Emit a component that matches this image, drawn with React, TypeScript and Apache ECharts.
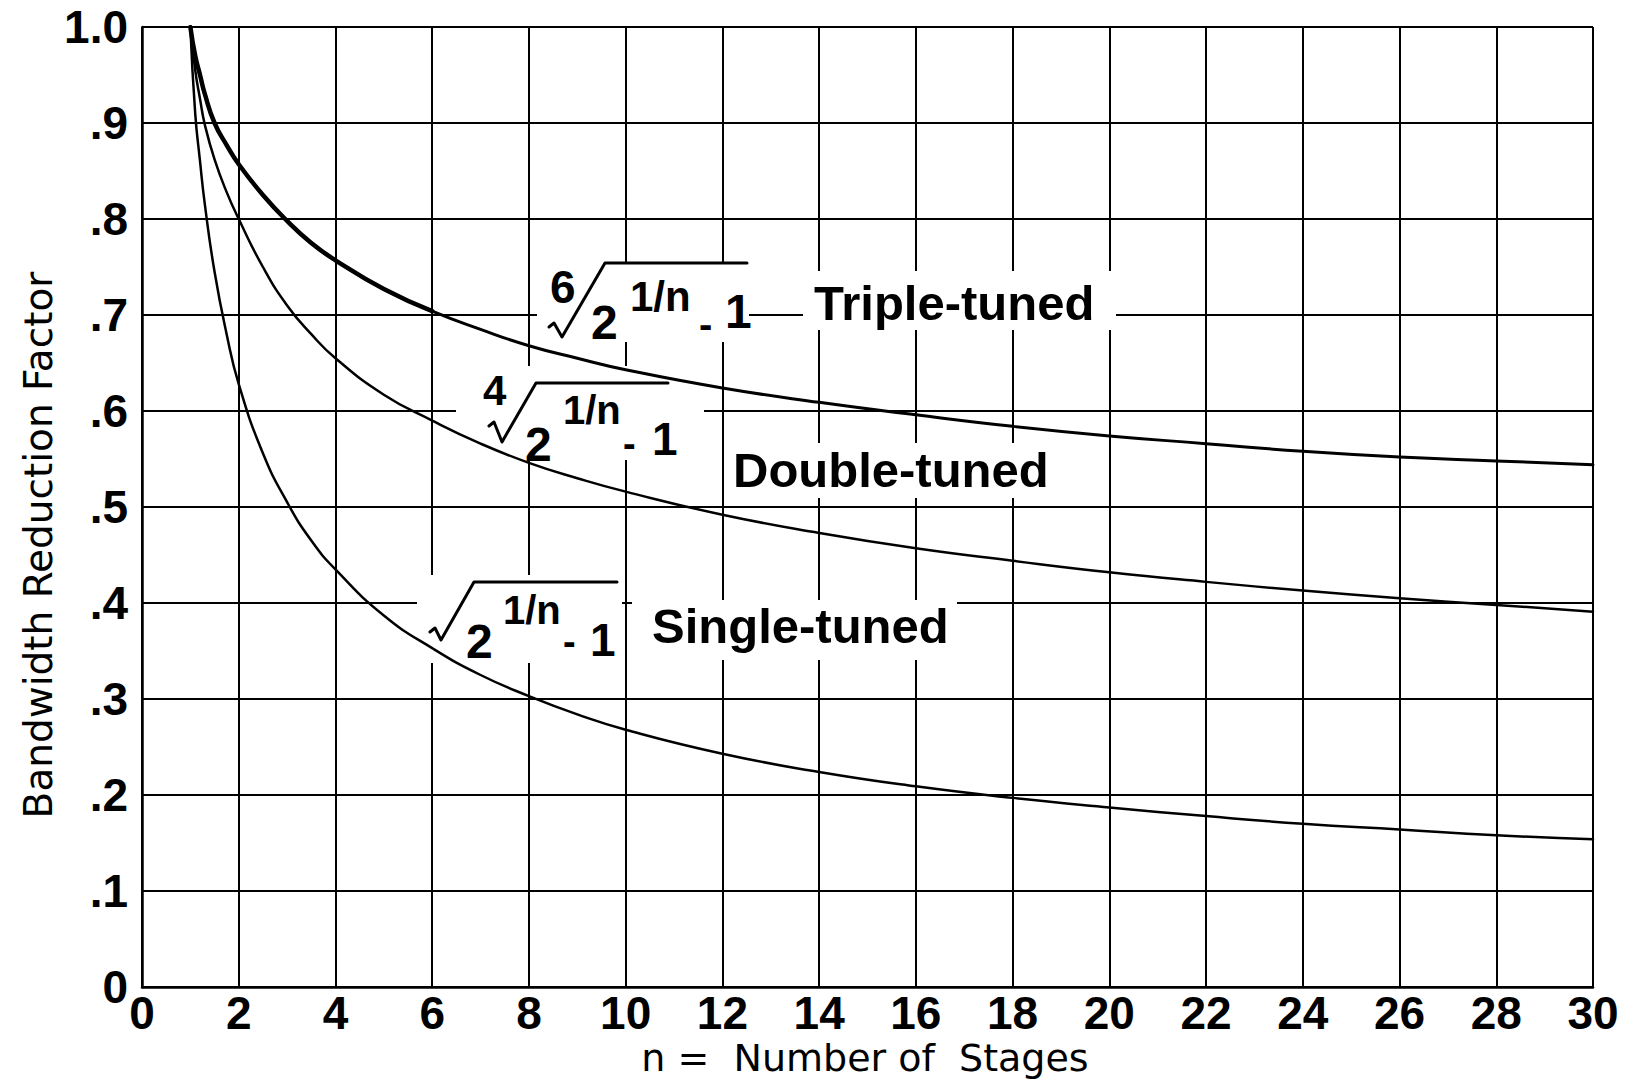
import React, { useEffect, useRef } from "react";
import * as echarts from "echarts";

const stages = [1, 1.1, 1.2, 1.3, 1.5, 1.75, 2, 2.5, 3, 3.5, 4, 5, 6, 7, 8, 9, 10, 12, 14, 16, 18, 20, 22, 24, 26, 28, 30];
const singleTuned = [1, 0.91, 0.86, 0.815, 0.745, 0.68, 0.628, 0.556, 0.505, 0.465, 0.435, 0.387, 0.353, 0.325, 0.303, 0.284, 0.268, 0.243, 0.224, 0.209, 0.197, 0.187, 0.178, 0.17, 0.164, 0.158, 0.154];
const doubleTuned = [1, 0.955, 0.925, 0.898, 0.862, 0.828, 0.8, 0.75, 0.71, 0.68, 0.655, 0.617, 0.59, 0.566, 0.546, 0.53, 0.516, 0.492, 0.473, 0.457, 0.444, 0.432, 0.422, 0.413, 0.405, 0.398, 0.391];
const tripleTuned = [1, 0.97, 0.95, 0.93, 0.9, 0.877, 0.857, 0.825, 0.798, 0.775, 0.757, 0.727, 0.704, 0.685, 0.668, 0.655, 0.643, 0.624, 0.609, 0.596, 0.584, 0.574, 0.566, 0.558, 0.552, 0.548, 0.544];
const heavyUntil = 6;

const xTicks = { min: 0, max: 30, step: 2 };
const yTicks = { min: 0, max: 1, step: 0.1 };

const curveNames = ["Single-tuned", "Double-tuned", "Triple-tuned"];
const xTitle = "n =  Number of  Stages";
const yTitle = "Bandwidth Reduction Factor";

const FONT = '"Liberation Sans", Arial, sans-serif';

function txt(text: string, x: number, y: number, size: number, extra: any = {}) {
  return {
    type: "text",
    x,
    y,
    z: 5,
    style: {
      text,
      fill: "#000",
      fontSize: size,
      fontWeight: "bold",
      fontFamily: FONT,
      align: "left",
      verticalAlign: "middle",
      ...extra,
    },
  };
}

function bg(x: number, y: number, w: number, h: number) {
  return { type: "rect", z: 1, shape: { x, y, width: w, height: h }, style: { fill: "#fff" } };
}

function radical(points: number[][]) {
  return {
    type: "polyline",
    z: 5,
    shape: { points },
    style: { stroke: "#000", lineWidth: 3, fill: null, lineJoin: "round", lineCap: "round" },
  };
}

function makePts(xs: number[], ys: number[], upTo?: number) {
  const out: number[][] = [];
  xs.forEach((x, i) => {
    if (upTo === undefined || x <= upTo) out.push([x, ys[i]]);
  });
  return out;
}

export default function App() {
  const ref = useRef<HTMLDivElement>(null);
  useEffect(() => {
    document.body.style.margin = "0";
    const chart = echarts.init(ref.current!, null, { renderer: "svg" });
    const lineSeries = (name: string, data: number[][], width: number) => ({
      type: "line",
      name,
      data,
      showSymbol: false,
      smooth: 0.5,
      lineStyle: { color: "#000", width, cap: "round", join: "round" },
      z: 3,
    });
    const graphic: any[] = [
      // Triple-tuned formula
      bg(537, 262, 212, 80),
      radical([[549, 327], [554, 323], [562, 337], [605, 263], [747, 263]]),
      txt("6", 550, 287, 46),
      txt("2", 591, 322, 48),
      txt("1/n", 630, 296, 42),
      txt("-", 699, 324, 40),
      txt("1", 725, 311, 48),
      bg(803, 271, 313, 59),
      txt(curveNames[2], 814, 303, 49),
      // Double-tuned formula
      bg(456, 366, 248, 94),
      radical([[489, 426], [494, 422], [502, 442], [536, 383], [668, 383]]),
      txt("4", 483, 390, 42),
      txt("2", 525, 444, 48),
      txt("1/n", 563, 410, 40),
      txt("-", 623, 444, 38),
      txt("1", 652, 439, 46),
      bg(730, 443, 320, 55),
      txt(curveNames[1], 733, 470, 49),
      // Single-tuned formula
      bg(417, 575, 205, 88),
      radical([[430, 632], [435, 628], [441, 640], [474, 582], [617, 582]]),
      txt("2", 466, 641, 48),
      txt("1/n", 503, 610, 40),
      txt("-", 563, 642, 38),
      txt("1", 590, 640, 46),
      bg(632, 600, 325, 60),
      txt(curveNames[0], 652, 626, 49),
      // axis names
      txt(xTitle, 865, 1058, 38, { align: "center", fontWeight: "normal", fontFamily: '"DejaVu Sans", sans-serif' }),
      {
        type: "text",
        x: 38,
        y: 545,
        rotation: Math.PI / 2,
        z: 5,
        style: {
          text: yTitle,
          fill: "#000",
          fontSize: 39,
          fontFamily: '"DejaVu Sans", sans-serif',
          align: "center",
          verticalAlign: "middle",
        },
      },
    ];

    chart.setOption({
      animation: false,
      backgroundColor: "#fff",
      grid: { left: 142, right: 42, top: 27, bottom: 96, containLabel: false },
      xAxis: {
        type: "value",
        min: xTicks.min,
        max: xTicks.max,
        interval: xTicks.step,
        axisLine: { show: true, lineStyle: { color: "#000", width: 2.5 } },
        axisTick: { show: false },
        splitLine: { show: true, lineStyle: { color: "#000", width: 2 } },
        axisLabel: {
          color: "#000",
          fontSize: 46,
          fontWeight: "bold",
          fontFamily: FONT,
          margin: 3,
          showMinLabel: true,
          showMaxLabel: true,
        },
      },
      yAxis: {
        type: "value",
        min: yTicks.min,
        max: yTicks.max,
        interval: yTicks.step,
        axisLine: { show: true, lineStyle: { color: "#000", width: 2.5 } },
        axisTick: { show: false },
        splitLine: { show: true, lineStyle: { color: "#000", width: 2 } },
        axisLabel: {
          color: "#000",
          fontSize: 46,
          fontWeight: "bold",
          fontFamily: FONT,
          margin: 14,
          formatter: (v: number) => (v >= 0.999 ? "1.0" : v <= 0.001 ? "0" : "." + Math.round(v * 10)),
        },
      },
      series: [
        lineSeries(curveNames[0], makePts(stages, singleTuned), 2.5),
        lineSeries(curveNames[1], makePts(stages, doubleTuned), 2.5),
        lineSeries(curveNames[2], makePts(stages, tripleTuned), 3),
        lineSeries(curveNames[2] + " (heavy)", makePts(stages, tripleTuned, heavyUntil), 4.5),
      ],
      graphic,
    });
    return () => chart.dispose();
  }, []);
  return <div ref={ref} style={{ position: "fixed", left: 0, top: 0, width: 1635, height: 1083 }} />;
}
